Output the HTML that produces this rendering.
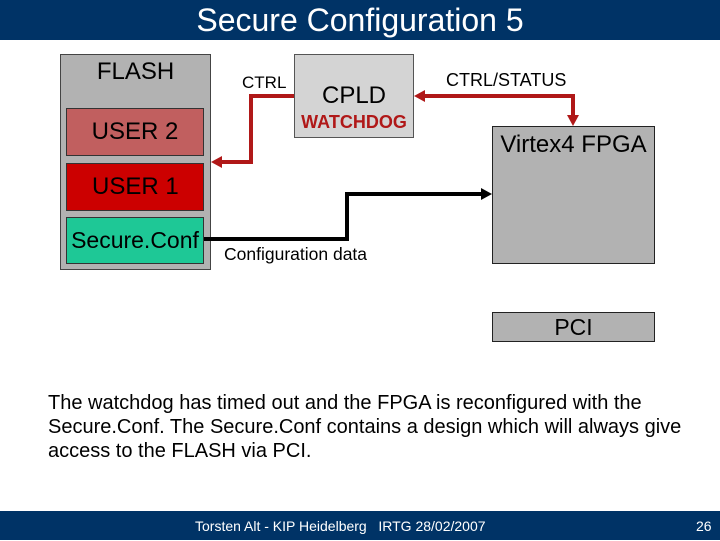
<!DOCTYPE html>
<html><head><style>
body{margin:0;width:720px;height:540px;background:#fff;position:relative;overflow:hidden;font-family:"Liberation Sans",Arial,sans-serif}
.a{position:absolute;box-sizing:border-box}
.c{display:flex;align-items:center;justify-content:center}
</style></head><body>
<div class="a" style="left:0;top:0;width:720px;height:40px;background:#003366;color:#fff;font-size:32px;text-align:center;line-height:40px">Secure Configuration 5</div>
<div class="a" style="left:60px;top:54px;width:151px;height:216px;background:#b2b2b2;border:1px solid #444"></div>
<div class="a c" style="left:60px;top:58px;width:151px;height:28px;font-size:24px">FLASH</div>
<div class="a c" style="left:66px;top:108px;width:138px;height:48px;background:#c15f5f;border:1px solid #333;font-size:24px">USER 2</div>
<div class="a" style="left:66px;top:163px;width:138px;height:48px;background:#cc0000;border:1px solid #333;font-size:24px;line-height:46px;padding-left:25px">USER 1</div>
<div class="a c" style="left:66px;top:217px;width:138px;height:47px;background:#1ec896;border:1px solid #333;font-size:23px">Secure.Conf</div>
<div class="a" style="left:294px;top:54px;width:120px;height:84px;background:#d4d4d4;border:1px solid #555"></div>
<div class="a c" style="left:294px;top:82px;width:120px;height:28px;font-size:24px">CPLD</div>
<div class="a c" style="left:294px;top:112px;width:120px;height:20px;font-size:18px;font-weight:bold;color:#b01818">WATCHDOG</div>
<div class="a" style="left:492px;top:126px;width:163px;height:138px;background:#b2b2b2;border:1px solid #222"></div>
<div class="a c" style="left:492px;top:131px;width:163px;height:28px;font-size:24px">Virtex4 FPGA</div>
<div class="a c" style="left:492px;top:312px;width:163px;height:30px;background:#b2b2b2;border:1px solid #222;font-size:23px">PCI</div>
<div class="a" style="left:242px;top:73px;font-size:17px;line-height:20px">CTRL</div>
<div class="a" style="left:446px;top:70px;font-size:18px;line-height:20px">CTRL/STATUS</div>
<div class="a" style="left:224px;top:244px;font-size:17.5px;line-height:20px">Configuration data</div>
<svg class="a" style="left:0;top:0" width="720" height="540">
<polyline points="294,96 251,96 251,162 220,162" fill="none" stroke="#b01818" stroke-width="4"/>
<polygon points="211,162 222,156 222,168" fill="#b01818"/>
<polyline points="424,96 573,96 573,116" fill="none" stroke="#b01818" stroke-width="4"/>
<polygon points="414,96 425,90 425,102" fill="#b01818"/>
<polygon points="573,126 567,115 579,115" fill="#b01818"/>
<polyline points="204,239 347,239 347,194 482,194" fill="none" stroke="#000" stroke-width="4"/>
<polygon points="492,194 481,188 481,200" fill="#000"/>
</svg>
<div class="a" style="left:48px;top:391px;width:660px;font-size:20px;line-height:24px;white-space:nowrap">The watchdog has timed out and the FPGA is reconfigured with the<br>Secure.Conf. The Secure.Conf contains a design which will always give<br>access to the FLASH via PCI.</div>
<div class="a" style="left:0;top:511px;width:720px;height:29px;background:#003366;color:#fff;font-size:14px;line-height:30px">
<span style="position:absolute;left:195px">Torsten Alt - KIP Heidelberg&nbsp;&nbsp; IRTG 28/02/2007</span>
<span style="position:absolute;left:696px">26</span></div>
</body></html>
